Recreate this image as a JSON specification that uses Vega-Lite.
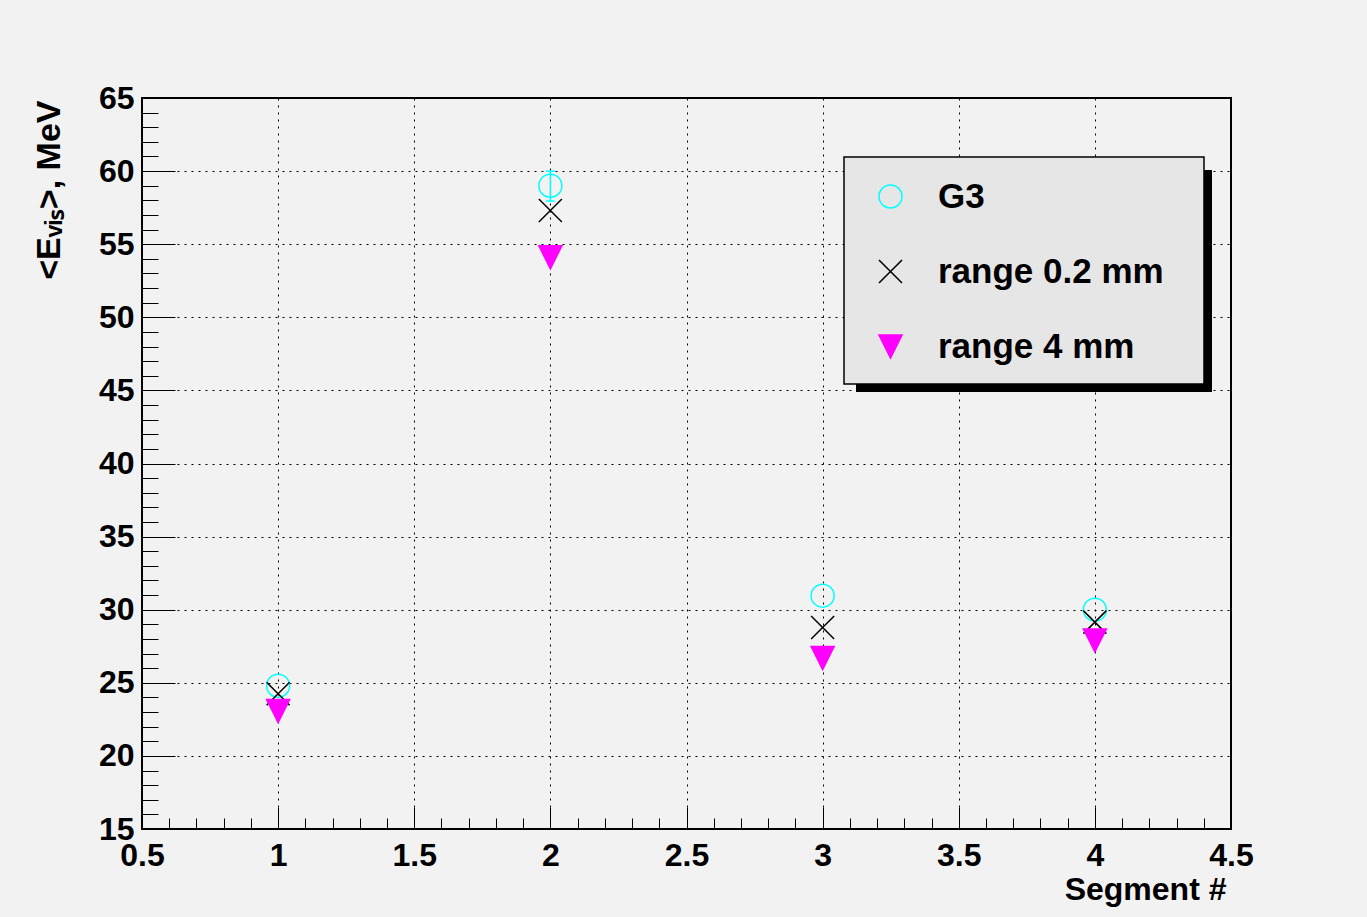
{
  "$schema": "https://vega.github.io/schema/vega-lite/v6.json",
  "autosize": {"type": "none"},
  "padding": {"left": 142, "top": 98, "right": 136, "bottom": 88},
  "width": 1089,
  "height": 731,
  "background": "#f2f2f2",
  "config": {
    "view": {"stroke": "#000000", "strokeWidth": 2, "fill": "#f2f2f2"},
    "font": "Liberation Sans",
    "axis": {"domain": false, "labelFont": "Liberation Sans", "titleFont": "Liberation Sans", "labelFontWeight": "bold", "titleFontWeight": "bold", "labelColor": "#000000", "titleColor": "#000000", "tickColor": "#000000", "labelFlush": false, "labelOverlap": false}
  },
  "datasets": {
    "points": [
      {"segment": 1, "series": "G3", "value": 24.8},
      {"segment": 2, "series": "G3", "value": 59.0},
      {"segment": 3, "series": "G3", "value": 30.96},
      {"segment": 4, "series": "G3", "value": 30.0},
      {"segment": 1, "series": "range 0.2 mm", "value": 24.25},
      {"segment": 2, "series": "range 0.2 mm", "value": 57.3},
      {"segment": 3, "series": "range 0.2 mm", "value": 28.78},
      {"segment": 4, "series": "range 0.2 mm", "value": 29.15},
      {"segment": 1, "series": "range 4 mm", "value": 23.07},
      {"segment": 2, "series": "range 4 mm", "value": 54.1},
      {"segment": 3, "series": "range 4 mm", "value": 26.7},
      {"segment": 4, "series": "range 4 mm", "value": 27.9}
    ],
    "errors": [
      {"segment": 2, "series": "G3", "lo": 57.95, "hi": 60.0}
    ]
  },
  "layer": [
    {
      "data": {"values": [{}]},
      "mark": {"type": "rect", "color": "#000000"},
      "encoding": {
        "x": {"datum": 3.1226, "type": "quantitative",
          "scale": {"domain": [0.5, 4.5], "nice": false, "zero": false},
          "axis": {"orient": "bottom", "values": [0.5,0.6,0.7,0.8,0.9,1.0,1.1,1.2,1.3,1.4,1.5,1.6,1.7,1.8,1.9,2.0,2.1,2.2,2.3,2.4,2.5,2.6,2.7,2.8,2.9,3.0,3.1,3.2,3.3,3.4,3.5,3.6,3.7,3.8,3.9,4.0,4.1,4.2,4.3,4.4,4.5], "tickSize": -11, "tickWidth": 1, "labels": false, "grid": false, "title": null}},
        "x2": {"datum": 4.4302},
        "y": {"datum": 60.075, "type": "quantitative",
          "scale": {"domain": [15, 65], "nice": false, "zero": false},
          "axis": {"orient": "left", "values": [15,16,17,18,19,20,21,22,23,24,25,26,27,28,29,30,31,32,33,34,35,36,37,38,39,40,41,42,43,44,45,46,47,48,49,50,51,52,53,54,55,56,57,58,59,60,61,62,63,64,65], "tickSize": -16, "tickWidth": 1, "labels": false, "grid": false, "title": null}},
        "y2": {"datum": 44.89}
      }
    },
    {
      "data": {"values": [{}]},
      "mark": {"type": "rect", "fill": "#e6e6e6", "stroke": "#000000", "strokeWidth": 1.5},
      "encoding": {
        "x": {"datum": 3.0785, "type": "quantitative",
          "axis": {"orient": "bottom", "values": [0.5,1,1.5,2,2.5,3,3.5,4,4.5], "tickSize": -22, "tickWidth": 1, "labels": false, "grid": false, "title": null}},
        "x2": {"datum": 4.4008},
        "y": {"datum": 60.96, "type": "quantitative",
          "axis": {"orient": "left", "values": [15,20,25,30,35,40,45,50,55,60,65], "tickSize": -33, "tickWidth": 1, "labels": false, "grid": false, "title": null}},
        "y2": {"datum": 45.44}
      }
    },
    {
      "data": {"name": "errors"},
      "mark": {"type": "rule", "color": "#00ffff", "strokeWidth": 1.5},
      "encoding": {
        "x": {"field": "segment", "type": "quantitative", "axis": null},
        "y": {"field": "lo", "type": "quantitative", "axis": null},
        "y2": {"field": "hi"}
      }
    },
    {
      "data": {"name": "errors"},
      "transform": [{"fold": ["lo", "hi"], "as": ["end", "bound"]}],
      "mark": {"type": "point", "shape": "stroke", "size": 81, "stroke": "#00ffff", "strokeWidth": 1.5, "opacity": 1},
      "encoding": {
        "x": {"field": "segment", "type": "quantitative", "axis": null},
        "y": {"field": "bound", "type": "quantitative", "axis": null}
      }
    },
    {
      "data": {"name": "points"},
      "mark": {"type": "point", "size": 530, "strokeWidth": 1.5, "opacity": 1},
      "encoding": {
        "x": {"field": "segment", "type": "quantitative",
          "axis": {"orient": "bottom", "values": [0.5,1,1.5,2,2.5,3,3.5,4,4.5], "format": "~g", "ticks": false, "labels": true, "labelFontSize": 32, "labelPadding": 11, "grid": true, "gridColor": "#000000", "gridWidth": 1, "gridDash": [2, 5], "gridOpacity": 1,
            "title": "Segment #", "titleFontSize": 32, "titleX": 1084, "titleY": 70, "titleAlign": "right", "titleBaseline": "alphabetic", "titleAnchor": "end"}},
        "y": {"field": "value", "type": "quantitative",
          "axis": {"orient": "left", "values": [15,20,25,30,35,40,45,50,55,60,65], "format": "~g", "ticks": false, "labels": true, "labelFontSize": 32, "labelPadding": 8, "grid": true, "gridColor": "#000000", "gridWidth": 1, "gridDash": [2, 5], "gridOpacity": 1,
            "title": "<Eᵥᵢₛ>, MeV", "titleFontSize": 34, "titleAngle": 270, "titleX": -93, "titleY": 2, "titleAlign": "right", "titleBaseline": "middle", "titleAnchor": "end"}},
        "shape": {"field": "series", "type": "nominal",
          "scale": {"domain": ["G3", "range 0.2 mm", "range 4 mm"], "range": ["circle", "M-1,-1L1,1M1,-1L-1,1", "M-1,-1L1,-1L0,1Z"]},
          "legend": {"orient": "none", "legendX": 731, "legendY": 81, "title": null, "padding": 0, "labelFont": "Liberation Sans", "labelFontWeight": "bold", "labelFontSize": 35, "labelColor": "#000000", "labelOffset": 30, "labelLimit": 500, "symbolSize": 530, "symbolStrokeWidth": 1.5, "rowPadding": 39}},
        "stroke": {"field": "series", "type": "nominal",
          "scale": {"domain": ["G3", "range 0.2 mm", "range 4 mm"], "range": ["#00ffff", "#000000", "#ff00ff"]},
          "legend": {"orient": "none", "legendX": 731, "legendY": 81, "title": null, "padding": 0, "labelFont": "Liberation Sans", "labelFontWeight": "bold", "labelFontSize": 35, "labelColor": "#000000", "labelOffset": 30, "labelLimit": 500, "symbolSize": 530, "symbolStrokeWidth": 1.5, "rowPadding": 39}},
        "fill": {"field": "series", "type": "nominal",
          "scale": {"domain": ["G3", "range 0.2 mm", "range 4 mm"], "range": ["transparent", "transparent", "#ff00ff"]},
          "legend": {"orient": "none", "legendX": 731, "legendY": 81, "title": null, "padding": 0, "labelFont": "Liberation Sans", "labelFontWeight": "bold", "labelFontSize": 35, "labelColor": "#000000", "labelOffset": 30, "labelLimit": 500, "symbolSize": 530, "symbolStrokeWidth": 1.5, "rowPadding": 39}}
      }
    }
  ],
  "resolve": {"axis": {"x": "independent", "y": "independent"}}
}
